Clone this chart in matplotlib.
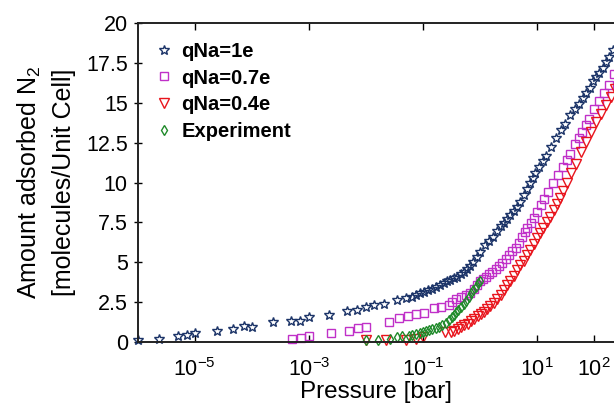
import numpy as np
import matplotlib
matplotlib.use("Agg")
import matplotlib.pyplot as plt

plt.rcParams['font.family'] = ['Liberation Sans', 'DejaVu Sans']
plt.rcParams['mathtext.fontset'] = 'custom'
plt.rcParams['mathtext.rm'] = 'Liberation Sans'
plt.rcParams['mathtext.it'] = 'Liberation Sans:italic'

# log10(pressure [bar]) and loading [molecules/unit cell]
q10_logp = [-6.0, -5.63, -5.30, -5.14, -5.0, -4.61, -4.32, -4.14, -4.0, -3.62,
            -3.32, -3.16, -3.0, -2.64, -2.33, -2.16, -2.0, -1.85, -1.69, -1.45,
            -1.30, -1.20, -1.13, -1.05, -0.99, -0.92, -0.85, -0.78, -0.71, -0.64,
            -0.58, -0.52, -0.46, -0.40, -0.34, -0.29, -0.23, -0.17, -0.12, -0.06,
            0.0, 0.08, 0.15, 0.22, 0.30, 0.36, 0.41, 0.47, 0.53, 0.59,
            0.65, 0.70, 0.76, 0.83, 0.88, 0.93, 0.97, 1.04, 1.10, 1.15,
            1.24, 1.33, 1.41, 1.48, 1.57, 1.66, 1.73, 1.80, 1.86, 1.92,
            1.98, 2.03, 2.09, 2.15, 2.20, 2.26, 2.32]
q10_n = [0.1, 0.2, 0.4, 0.45, 0.55, 0.7, 0.8, 1.0, 0.95, 1.25,
         1.3, 1.3, 1.55, 1.7, 1.95, 2.0, 2.2, 2.3, 2.4, 2.65,
         2.75, 2.85, 2.95, 3.05, 3.15, 3.25, 3.35, 3.45, 3.6, 3.7,
         3.8, 3.9, 4.0, 4.1, 4.25, 4.4, 4.55, 4.75, 5.0, 5.3,
         5.65, 6.1, 6.35, 6.6, 6.95, 7.25, 7.45, 7.7, 7.95, 8.2,
         8.5, 8.8, 9.2, 9.6, 9.95, 10.3, 10.6, 11.0, 11.35, 11.7,
         12.25, 12.8, 13.3, 13.7, 14.25, 14.65, 14.95, 15.3, 15.6, 15.95,
         16.35, 16.6, 16.9, 17.2, 17.55, 17.9, 18.35]

q07_logp = [-3.29, -3.13, -3.0, -2.62, -2.3, -2.13, -2.0, -1.6, -1.42, -1.27,
            -1.12, -0.99, -0.81, -0.69, -0.55, -0.49, -0.43, -0.34, -0.25, -0.18,
            -0.11, -0.05, 0.0, 0.05, 0.10, 0.15, 0.21, 0.27, 0.33, 0.39,
            0.45, 0.50, 0.56, 0.62, 0.68, 0.74, 0.79, 0.83, 0.89, 0.94,
            1.0, 1.06, 1.12, 1.19, 1.28, 1.37, 1.46, 1.52, 1.58, 1.67,
            1.73, 1.79, 1.85, 1.90, 1.99, 2.08, 2.17, 2.25, 2.34]
q07_n = [0.2, 0.25, 0.35, 0.55, 0.7, 0.85, 0.95, 1.25, 1.5, 1.6,
         1.75, 1.8, 2.1, 2.2, 2.3, 2.5, 2.7, 2.85, 2.95, 3.1,
         3.3, 3.55, 3.8, 3.95, 4.1, 4.25, 4.4, 4.55, 4.75, 4.95,
         5.2, 5.45, 5.7, 5.9, 6.2, 6.6, 6.9, 7.15, 7.45, 7.75,
         8.15, 8.6, 9.0, 9.4, 10.0, 10.5, 11.0, 11.4, 11.8, 12.4,
         12.8, 13.2, 13.6, 14.0, 14.6, 15.1, 15.6, 16.1, 16.8]

q04_logp = [-2.0, -1.65, -1.3, -1.13, -1.0, -0.62, -0.51, -0.45, -0.39, -0.33,
            -0.28, -0.22, -0.16, -0.10, -0.04, 0.01, 0.06, 0.12, 0.18, 0.24,
            0.30, 0.36, 0.41, 0.47, 0.53, 0.59, 0.65, 0.70, 0.76, 0.82,
            0.88, 0.94, 1.0, 1.05, 1.11, 1.17, 1.23, 1.29, 1.35, 1.40,
            1.45, 1.52, 1.60, 1.68, 1.77, 1.85, 1.94, 2.03, 2.11, 2.20,
            2.29, 2.36]
q04_n = [0.1, 0.1, 0.15, 0.2, 0.3, 0.6, 0.6, 0.7, 0.8, 0.95,
         1.05, 1.15, 1.3, 1.45, 1.6, 1.75, 1.9, 2.05, 2.25, 2.45,
         2.7, 2.95, 3.25, 3.55, 3.85, 4.15, 4.5, 4.8, 5.1, 5.45,
         5.8, 6.15, 6.5, 6.85, 7.15, 7.5, 7.85, 8.25, 8.65, 9.05,
         9.5, 10.0, 10.6, 11.2, 11.9, 12.55, 13.15, 13.8, 14.3, 14.85,
         15.4, 15.85]

exp_logp = [-2.0, -1.78, -1.57, -1.45, -1.36, -1.25, -1.19, -1.13, -1.06, -1.0,
            -0.95, -0.90, -0.84, -0.78, -0.72, -0.66, -0.60, -0.55, -0.50, -0.46,
            -0.42, -0.38, -0.33, -0.29, -0.25, -0.20, -0.16, -0.12, -0.08, -0.03, 0.0]
exp_n = [0.1, 0.15, 0.2, 0.3, 0.35, 0.4, 0.45, 0.5, 0.55, 0.6,
         0.7, 0.75, 0.8, 0.9, 0.95, 1.05, 1.2, 1.4, 1.55, 1.7,
         1.85, 2.0, 2.2, 2.4, 2.6, 2.85, 3.05, 3.25, 3.45, 3.7, 3.85]

xticks = [1e-5, 1e-3, 1e-1, 1e1, 1e2]
xticklabels = [r'$10^{-5}$', r'$10^{-3}$', r'$10^{-1}$', r'$10^{1}$', r'$10^{2}$']
yticks = np.arange(0, 20.1, 2.5)

fig = plt.figure(figsize=(6.14, 4.09), dpi=100)
ax = fig.add_axes([0.224, 0.164, 0.776, 0.779])

series = [
    (q10_logp, q10_n, '*', '#1c3468', 7.0, 'qNa=1e'),
    (q07_logp, q07_n, 's', '#c030c8', 6.0, 'qNa=0.7e'),
    (q04_logp, q04_n, 'v', '#e8141c', 7.0, 'qNa=0.4e'),
    (exp_logp, exp_n, 'd', '#1f8a2a', 5.5, 'Experiment'),
]
for lp, n, mk, col, ms, lab in series:
    ax.plot(10 ** np.array(lp), n, linestyle='none', marker=mk, ms=ms,
            mfc='none', mec=col, mew=1.0, label=lab, clip_on=False)

ax.set_xscale('log')
ax.set_xlim(1e-6, 10 ** 2.345)
ax.set_ylim(0, 20)
ax.set_xticks(xticks)
ax.set_xticklabels(xticklabels)
ax.xaxis.set_minor_locator(matplotlib.ticker.NullLocator())
ax.set_yticks(yticks)
ax.set_yticklabels(['%g' % v for v in yticks])
ax.tick_params(axis='x', direction='in', top=True, length=5, width=1, pad=12, labelsize=15.5)
ax.tick_params(axis='y', direction='inout', length=6, width=1, pad=4, labelsize=15.5)

for s in ['left', 'bottom', 'top']:
    ax.spines[s].set_linewidth(1.4)
    ax.spines[s].set_color('#222222')
ax.spines['right'].set_visible(False)

ax.set_xlabel('Pressure [bar]', fontsize=17.5, labelpad=0)
ax.set_ylabel('Amount adsorbed N$_2$\n[molecules/Unit Cell]', fontsize=18, linespacing=1.45)
ax.yaxis.set_label_coords(-0.13, 0.5)

leg = ax.legend(loc='upper left', bbox_to_anchor=(-0.005, 1.005), frameon=False,
                prop={'weight': 'bold', 'size': 14.5}, handlelength=0.9,
                handletextpad=0.4, labelspacing=0.38, borderaxespad=0.6)

fig.savefig('out.png', dpi=100)
